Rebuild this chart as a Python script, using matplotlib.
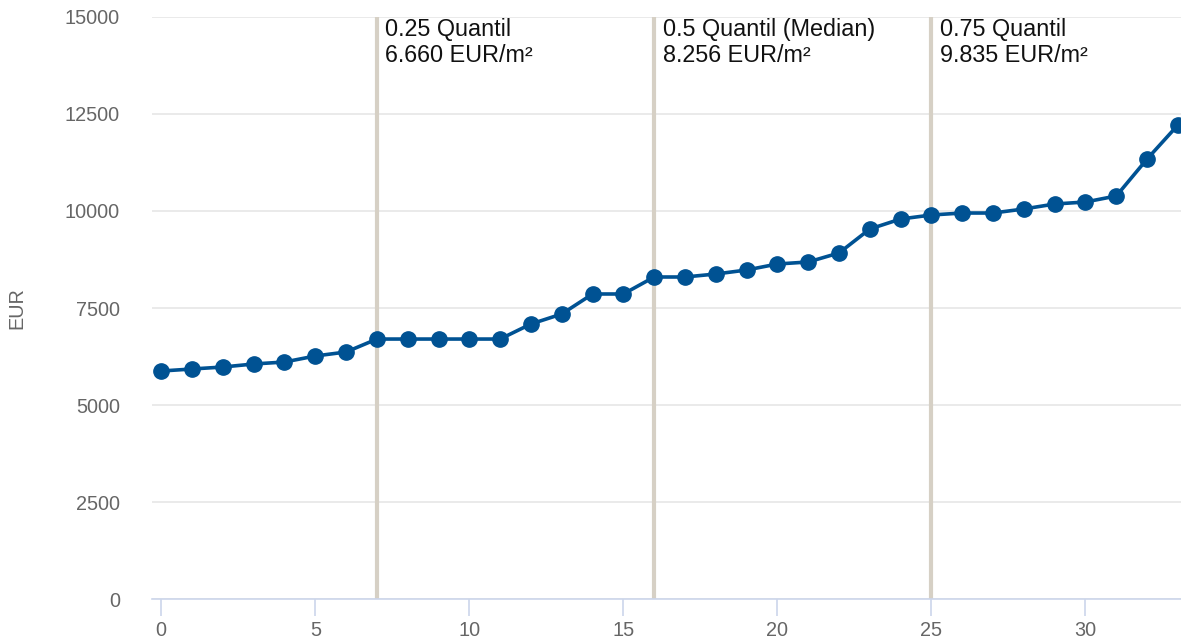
import numpy as np
import matplotlib
matplotlib.use("Agg")
import matplotlib.pyplot as plt

plt.rcParams['font.family'] = ['Liberation Sans', 'DejaVu Sans']

# Werte je Position (EUR/m²), sortiert
idx = list(range(34))
preise = [5876, 5928, 5979, 6057, 6108, 6263, 6366, 6700, 6700, 6700,
          6700, 6700, 7088, 7345, 7861, 7861, 8299, 8299, 8376, 8479,
          8634, 8686, 8918, 9536, 9794, 9897, 9948, 9948, 10052, 10180,
          10232, 10387, 11340, 12216]

# Quantile: Position, Titel, Wert
q_pos = [7, 16, 25]
q_titel = ["0.25 Quantil", "0.5 Quantil (Median)", "0.75 Quantil"]
q_wert = ["6.660 EUR/m²", "8.256 EUR/m²", "9.835 EUR/m²"]

y_ticks = [0, 2500, 5000, 7500, 10000, 12500, 15000]
x_ticks = [0, 5, 10, 15, 20, 25, 30]

fig = plt.figure(figsize=(11.81, 6.41), dpi=100)
ax = fig.add_axes([0.1287, 0.0655, 0.8713, 0.908])

for y in y_ticks:
    ax.axhline(y, color='#e6e6e6', lw=1.2, zorder=0)

for p, t, w in zip(q_pos, q_titel, q_wert):
    ax.axvline(p, color='#d6d0c5', lw=3, zorder=1)
    ax.annotate(t + "\n" + w, xy=(p, 1), xycoords=('data', 'axes fraction'),
                xytext=(6, -1), textcoords='offset points', ha='left', va='top',
                fontsize=16.8, color='#111111', linespacing=1.15)

ax.plot(idx, preise, color='#005293', lw=2.6, marker='o', ms=11,
        zorder=3, clip_on=True)

ax.set_xlim(-0.3, 33.1)
ax.set_ylim(0, 15000)
ax.set_yticks(y_ticks)
ax.set_xticks(x_ticks)

for s in ['top', 'right', 'left']:
    ax.spines[s].set_visible(False)
ax.spines['bottom'].set_color('#ccd6eb')
ax.spines['bottom'].set_linewidth(1.2)

ax.tick_params(axis='y', length=0, pad=23, labelsize=14.3, labelcolor='#666666')
ax.tick_params(axis='x', length=12, width=1.2, color='#ccd6eb', pad=4,
               labelsize=14.3, labelcolor='#666666')

ax.set_ylabel("EUR", fontsize=14.3, color='#666666')
ax.yaxis.set_label_coords(-0.1225, 0.5)

fig.savefig("out.png", dpi=100)
